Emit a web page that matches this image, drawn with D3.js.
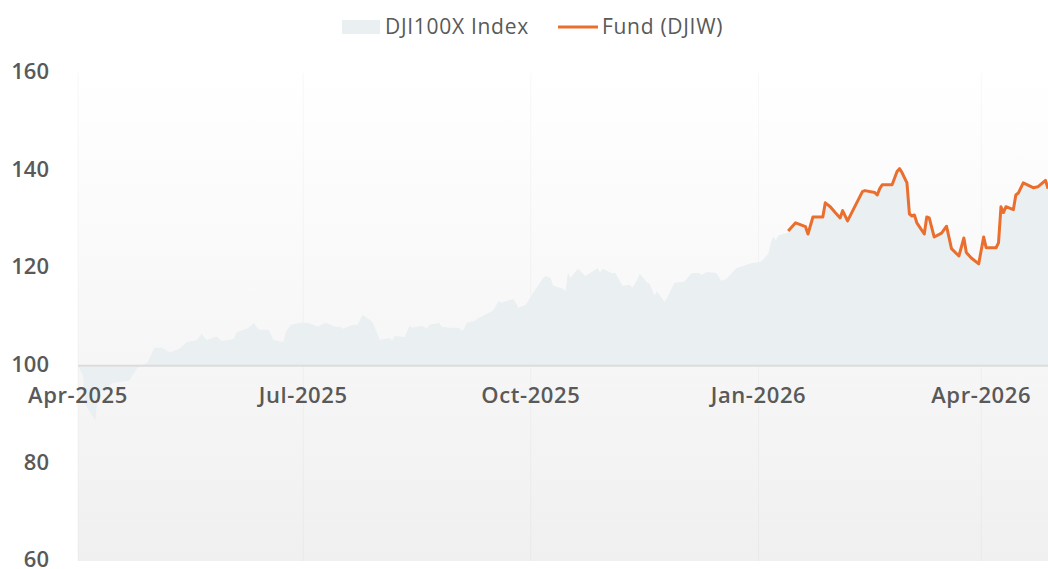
<!DOCTYPE html>
<html>
<head>
<meta charset="utf-8">
<script src="https://cdn.jsdelivr.net/npm/d3@7"></script>
<style>
  html, body { margin: 0; padding: 0; background: #ffffff; }
  svg { display: block; font-family: "Open Sans", "Noto Sans", sans-serif; }
</style>
</head>
<body>
<div class="canvas"></div>
<script>
// chart size and margins
const width = 1048;
const height = 569;
const marginTop = 73;
const marginRight = 0;
const marginBottom = 8;
const marginLeft = 78;

// series
const indexDates = [
  "2025-04-01","2025-04-03","2025-04-04","2025-04-08","2025-04-09","2025-04-15","2025-04-22","2025-04-23",
  "2025-04-25","2025-04-29","2025-05-01","2025-05-02","2025-05-05","2025-05-08","2025-05-12","2025-05-15",
  "2025-05-19","2025-05-21","2025-05-23","2025-05-27","2025-05-29","2025-06-03","2025-06-04","2025-06-09",
  "2025-06-11","2025-06-13","2025-06-17","2025-06-19","2025-06-23","2025-06-24","2025-06-26","2025-06-30",
  "2025-07-03","2025-07-07","2025-07-10","2025-07-14","2025-07-16","2025-07-17","2025-07-21","2025-07-23",
  "2025-07-25","2025-07-28","2025-07-29","2025-07-30","2025-08-01","2025-08-05","2025-08-06","2025-08-07",
  "2025-08-11","2025-08-13","2025-08-14","2025-08-18","2025-08-20","2025-08-21","2025-08-25","2025-08-26",
  "2025-08-29","2025-09-02","2025-09-03","2025-09-04","2025-09-05","2025-09-08","2025-09-10","2025-09-15",
  "2025-09-16","2025-09-18","2025-09-19","2025-09-24","2025-09-26","2025-09-29","2025-10-02","2025-10-06",
  "2025-10-07","2025-10-09","2025-10-10","2025-10-14","2025-10-15","2025-10-16","2025-10-17","2025-10-20",
  "2025-10-23","2025-10-28","2025-10-29","2025-10-30","2025-11-03","2025-11-04","2025-11-07","2025-11-10",
  "2025-11-11","2025-11-13","2025-11-14","2025-11-17","2025-11-18","2025-11-20","2025-11-21","2025-11-24",
  "2025-11-25","2025-11-28","2025-12-02","2025-12-05","2025-12-08","2025-12-09","2025-12-11","2025-12-15",
  "2025-12-17","2025-12-19","2025-12-23","2025-12-29","2026-01-02","2026-01-05","2026-01-06","2026-01-07",
  "2026-01-08","2026-01-09","2026-01-13","2026-01-16","2026-01-20","2026-01-21","2026-01-23","2026-01-27",
  "2026-01-28","2026-01-30","2026-02-01","2026-02-03","2026-02-04","2026-02-06","2026-02-12","2026-02-13",
  "2026-02-17","2026-02-18","2026-02-19","2026-02-20","2026-02-24","2026-02-26","2026-02-27","2026-02-28",
  "2026-03-02","2026-03-03","2026-03-04","2026-03-05","2026-03-06","2026-03-09","2026-03-10","2026-03-11",
  "2026-03-13","2026-03-16","2026-03-18","2026-03-20","2026-03-23","2026-03-25","2026-03-26","2026-03-28",
  "2026-03-31","2026-04-02","2026-04-03","2026-04-07","2026-04-08","2026-04-09","2026-04-10","2026-04-11",
  "2026-04-14","2026-04-15","2026-04-16","2026-04-18","2026-04-22","2026-04-24","2026-04-27","2026-04-28"
];
const indexValues = [
  100, 98, 92, 88.7, 94.3, 96.5, 97, 98,
  99.6, 100.6, 102.7, 103.7, 103.7, 102.7, 103.5, 104.9,
  105.3, 106.5, 105.3, 106, 105.1, 105.5, 106.8, 107.8,
  108.8, 107.4, 107.4, 105.3, 104.9, 107, 108.4, 108.8,
  108.8, 108, 108.8, 108, 108, 107.6, 108.4, 108.4,
  110.4, 109.4, 109, 107.8, 105.3, 105.7, 105.1, 106.1,
  105.9, 108.2, 107.8, 108.2, 107.6, 108.4, 108.8, 108,
  107.8, 107.8, 107.2, 107.6, 108.8, 109.2, 109.8, 111.1,
  111.5, 113.3, 112.9, 113.7, 111.9, 112.5, 115, 118,
  118.4, 118, 116.4, 115.8, 115.2, 119.1, 118, 119.9,
  118.4, 120, 119.1, 119.9, 118.9, 119.1, 116.4, 116.6,
  116, 117.6, 118.9, 117, 116.8, 114.4, 115.2, 113.1,
  113.9, 117, 117.2, 119, 119, 118.6, 119.2, 119,
  117.4, 117.8, 120, 121, 121.3, 123, 125.2, 126.5,
  125.7, 126.7, 127.3, 129, 128.2, 126.8, 130.2, 130.2,
  133.1, 132.3, 131.1, 130, 131.5, 129.4, 135.4, 135.6,
  135.2, 134.7, 136, 136.8, 136.8, 139.5, 140.1, 139.3,
  137.2, 130.8, 130.4, 130.6, 129, 126.7, 130.2, 130,
  126.1, 126.9, 128.3, 123.7, 122.2, 125.9, 122.9, 121.8,
  120.6, 126.1, 123.9, 123.9, 124.9, 132.3, 131.1, 132.3,
  131.7, 134.7, 135.1, 137.2, 136.2, 136.4, 137.7, 136
];

const fundDates = [
  "2026-01-13","2026-01-16","2026-01-20","2026-01-21","2026-01-23","2026-01-27","2026-01-28","2026-01-30",
  "2026-02-01","2026-02-03","2026-02-04","2026-02-06","2026-02-12","2026-02-13","2026-02-17","2026-02-18",
  "2026-02-19","2026-02-20","2026-02-24","2026-02-26","2026-02-27","2026-02-28","2026-03-02","2026-03-03",
  "2026-03-04","2026-03-05","2026-03-06","2026-03-09","2026-03-10","2026-03-11","2026-03-13","2026-03-16",
  "2026-03-18","2026-03-20","2026-03-23","2026-03-25","2026-03-26","2026-03-28","2026-03-31","2026-04-02",
  "2026-04-03","2026-04-07","2026-04-08","2026-04-09","2026-04-10","2026-04-11","2026-04-14","2026-04-15",
  "2026-04-16","2026-04-18","2026-04-22","2026-04-24","2026-04-27","2026-04-28"
];
const fundValues = [
  127.6, 129.3, 128.5, 127, 130.5, 130.5, 133.4, 132.6,
  131.4, 130.3, 131.8, 129.7, 135.7, 135.9, 135.5, 135,
  136.3, 137.1, 137.1, 139.8, 140.4, 139.6, 137.5, 131.1,
  130.7, 130.9, 129.3, 127, 130.5, 130.3, 126.4, 127.2,
  128.6, 124, 122.5, 126.2, 123.2, 122.1, 120.9, 126.4,
  124.2, 124.2, 125.2, 132.6, 131.4, 132.6, 132, 135,
  135.4, 137.5, 136.5, 136.7, 138, 136.3
];

// axis ticks
const yTicks = [60, 80, 100, 120, 140, 160];
const xTickDates = ["2025-04-01", "2025-07-01", "2025-10-01", "2026-01-01", "2026-04-01"];
const xTickLabels = ["Apr-2025", "Jul-2025", "Oct-2025", "Jan-2026", "Apr-2026"];
const legendNames = ["DJI100X Index", "Fund (DJIW)"];

const baseValue = 100;
const parseDate = d3.utcParse("%Y-%m-%d");

const indexData = indexDates.map((d, i) => ({ date: parseDate(d), value: indexValues[i] }));
const fundData = fundDates.map((d, i) => ({ date: parseDate(d), value: fundValues[i] }));

const x = d3.scaleUtc()
            .domain([parseDate("2025-04-01"), parseDate("2026-04-28")])
            .range([marginLeft, width - marginRight]);

const y = d3.scaleLinear()
            .domain([60, 160])
            .range([height - marginBottom, marginTop]);

const svg = d3.select(".canvas").append("svg")
              .attr("width", width)
              .attr("height", height);

// plot background gradient
const defs = svg.append("defs");
const grad = defs.append("linearGradient")
                 .attr("id", "bg-grad")
                 .attr("x1", 0).attr("y1", 0)
                 .attr("x2", 0).attr("y2", 1);
grad.append("stop").attr("offset", "0%").attr("stop-color", "#ffffff");
grad.append("stop").attr("offset", "100%").attr("stop-color", "#f0f0f0");

defs.append("clipPath").attr("id", "plot-clip")
    .append("rect")
    .attr("x", marginLeft).attr("y", marginTop)
    .attr("width", width - marginLeft - marginRight)
    .attr("height", height - marginBottom - marginTop);

svg.append("rect")
   .attr("x", marginLeft)
   .attr("y", marginTop)
   .attr("width", width - marginLeft - marginRight)
   .attr("height", height - marginBottom - marginTop)
   .attr("fill", "url(#bg-grad)");

// faint vertical grid
svg.append("g")
   .selectAll("line")
   .data(xTickDates)
   .join("line")
   .attr("x1", d => x(parseDate(d)))
   .attr("x2", d => x(parseDate(d)))
   .attr("y1", marginTop)
   .attr("y2", height - marginBottom)
   .attr("stroke", "#000")
   .attr("stroke-opacity", 0.03)
   .attr("stroke-width", 1);

const plot = svg.append("g").attr("clip-path", "url(#plot-clip)");

// index area, filled from the 100 base
const area = d3.area()
               .x(d => x(d.date))
               .y0(y(baseValue))
               .y1(d => y(d.value));

plot.append("path")
    .datum(indexData)
    .attr("fill", "#eaeff2")
    .attr("d", area);

// base line at 100
svg.append("line")
   .attr("x1", marginLeft)
   .attr("x2", width - marginRight)
   .attr("y1", y(baseValue))
   .attr("y2", y(baseValue))
   .attr("stroke", "#dcdcdc")
   .attr("stroke-width", 2);

// fund line
const line = d3.line()
               .x(d => x(d.date))
               .y(d => y(d.value));

plot.append("path")
    .datum(fundData)
    .attr("fill", "none")
    .attr("stroke", "#ea6e2d")
    .attr("stroke-width", 3)
    .attr("stroke-linejoin", "round")
    .attr("d", line);

// y axis labels
svg.append("g")
   .selectAll("text")
   .data(yTicks)
   .join("text")
   .attr("x", 49)
   .attr("y", d => y(d))
   .attr("dy", "0.28em")
   .attr("text-anchor", "end")
   .attr("font-size", 22)
   .attr("font-weight", 600)
   .attr("fill", "#595959")
   .text(d => d);

// x axis labels sit under the 100 line
svg.append("g")
   .selectAll("text")
   .data(xTickDates)
   .join("text")
   .attr("x", d => x(parseDate(d)))
   .attr("y", y(baseValue) + 37)
   .attr("text-anchor", "middle")
   .attr("font-size", 22)
   .attr("font-weight", 600)
   .attr("letter-spacing", 0.6)
   .attr("fill", "#595959")
   .text((d, i) => xTickLabels[i]);

// legend
const legend = svg.append("g");
legend.append("rect")
      .attr("x", 342).attr("y", 20)
      .attr("width", 38).attr("height", 14)
      .attr("fill", "#eaeff2");
legend.append("text")
      .attr("x", 385).attr("y", 34)
      .attr("font-size", 21)
      .attr("font-weight", 500)
      .attr("letter-spacing", 0.7)
      .attr("fill", "#595959")
      .text(legendNames[0]);
legend.append("line")
      .attr("x1", 558).attr("x2", 598)
      .attr("y1", 27).attr("y2", 27)
      .attr("stroke", "#ea6e2d")
      .attr("stroke-width", 3);
legend.append("text")
      .attr("x", 602).attr("y", 34)
      .attr("font-size", 21)
      .attr("font-weight", 500)
      .attr("letter-spacing", 0.7)
      .attr("fill", "#595959")
      .text(legendNames[1]);
</script>
</body>
</html>
